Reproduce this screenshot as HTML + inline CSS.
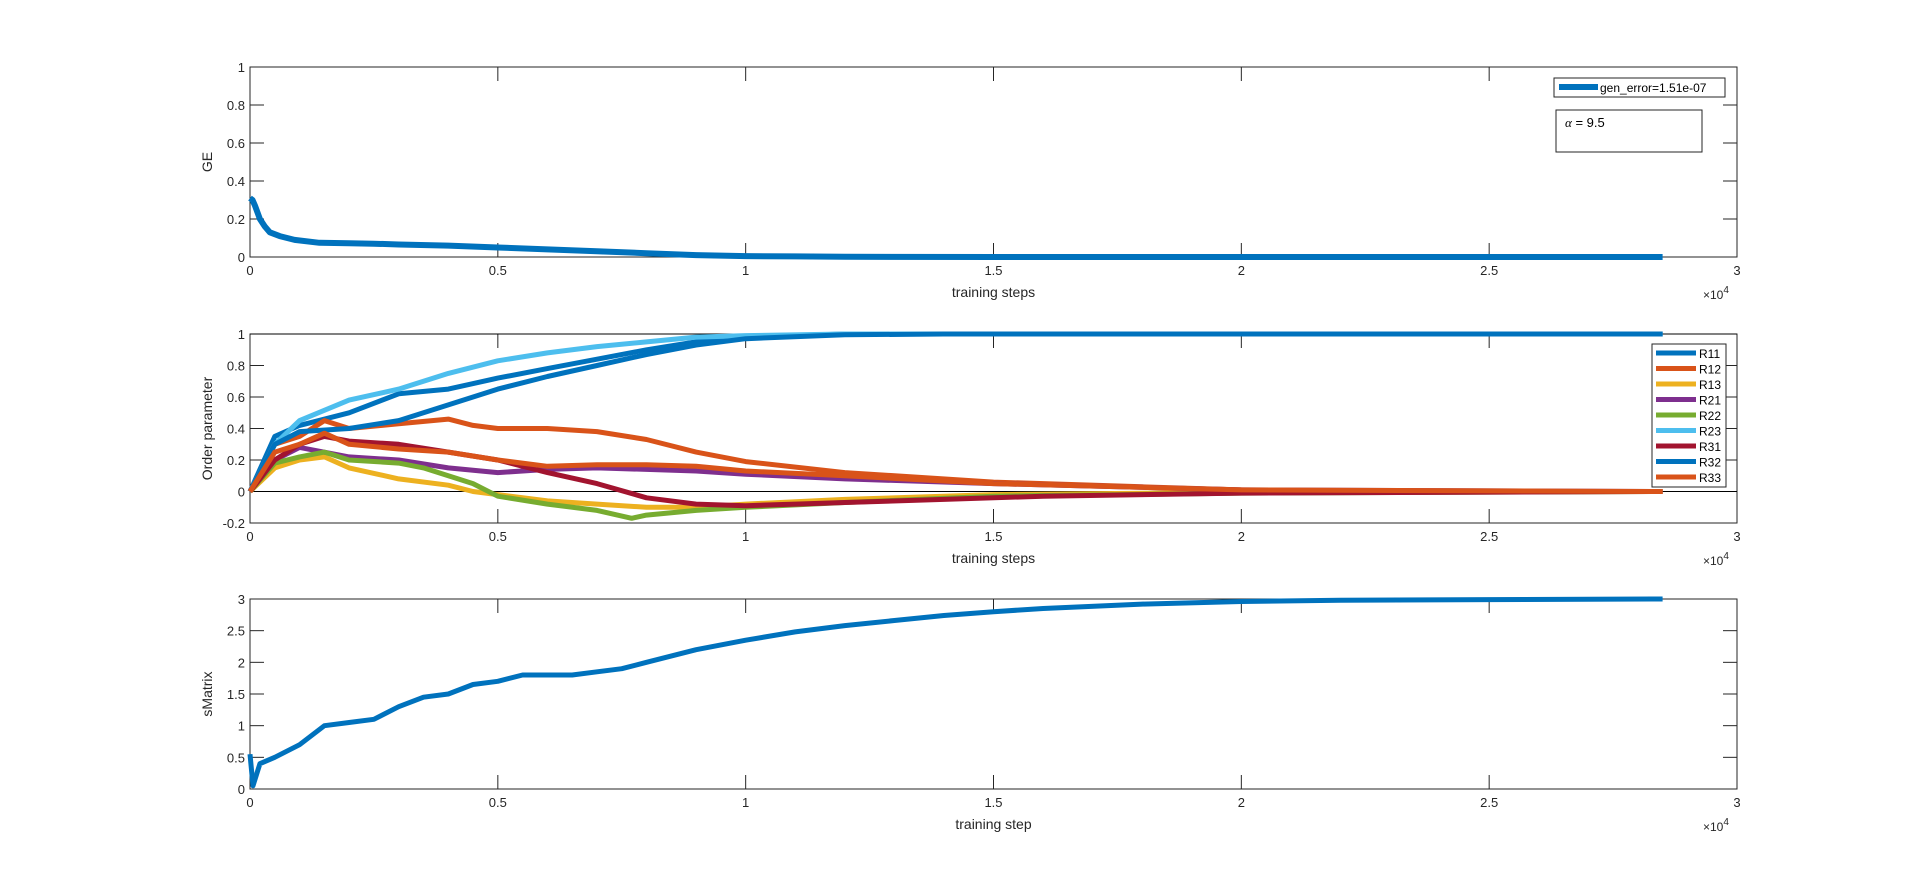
<!DOCTYPE html>
<html><head><meta charset="utf-8"><style>
html,body{margin:0;padding:0;background:#fff;}
svg{display:block;font-family:"Liberation Sans","DejaVu Sans",sans-serif;}
</style></head><body>
<svg id="fig" width="1920" height="888" viewBox="0 0 1920 888" xmlns="http://www.w3.org/2000/svg"></svg>
<script>
// ---- data (x in hundreds of training steps) ----
const geX = [0,0.5,1,2,3,4,6,9,14,20,25,30,40,50,60,70,80,90,100,110,120,150,200,285];
const geY = [0.31,0.30,0.27,0.2,0.16,0.13,0.11,0.09,0.075,0.072,0.07,0.066,0.06,0.05,0.04,0.03,0.02,0.01,0.005,0.003,0.001,0,0,0];
const opSeries = ['R11','R12','R13','R21','R22','R23','R31','R32','R33'];
const opColors = ['#0072bd','#d95319','#edb120','#7e2f8e','#77ac30','#4dbeee','#a2142f','#0072bd','#d95319'];
const opX = {
 R11:[0,5,10,20,30,40,50,60,70,80,90,100,120,140,285],
 R12:[0,5,10,15,20,30,40,45,50,60,70,80,90,100,120,150,180,200,240,285],
 R13:[0,5,10,15,20,30,40,45,50,60,70,80,90,100,120,150,200,285],
 R21:[0,5,10,20,30,40,50,60,70,80,90,100,120,150,200,285],
 R22:[0,5,10,15,20,30,35,40,45,50,60,70,77,80,90,100,120,150,200,285],
 R23:[0,5,10,20,30,40,50,60,70,80,90,100,120,285],
 R31:[0,5,10,15,20,30,40,50,60,70,80,90,100,110,120,140,160,200,285],
 R32:[0,5,10,20,30,40,50,60,70,80,90,100,120,140,285],
 R33:[0,5,10,15,20,30,40,50,60,70,80,90,100,120,150,200,285]
};
const opY = {
 R11:[0,0.35,0.42,0.5,0.62,0.65,0.72,0.78,0.84,0.9,0.95,0.98,1,1,1],
 R12:[0,0.3,0.35,0.45,0.4,0.43,0.46,0.42,0.4,0.4,0.38,0.33,0.25,0.19,0.12,0.06,0.03,0.01,0,0],
 R13:[0,0.15,0.2,0.22,0.15,0.08,0.04,0,-0.02,-0.06,-0.08,-0.1,-0.1,-0.08,-0.05,-0.02,-0.005,0],
 R21:[0,0.2,0.28,0.22,0.2,0.15,0.12,0.14,0.15,0.14,0.13,0.11,0.08,0.05,0.01,0],
 R22:[0,0.18,0.22,0.25,0.2,0.18,0.15,0.1,0.05,-0.03,-0.08,-0.12,-0.17,-0.15,-0.12,-0.1,-0.07,-0.03,-0.01,0],
 R23:[0,0.3,0.45,0.58,0.65,0.75,0.83,0.88,0.92,0.95,0.98,0.99,1,1],
 R31:[0,0.2,0.3,0.35,0.32,0.3,0.25,0.2,0.12,0.05,-0.04,-0.08,-0.09,-0.08,-0.07,-0.05,-0.03,-0.01,0],
 R32:[0,0.3,0.38,0.4,0.45,0.55,0.65,0.73,0.8,0.87,0.93,0.97,0.995,1,1],
 R33:[0,0.25,0.3,0.37,0.3,0.27,0.25,0.2,0.16,0.17,0.17,0.16,0.13,0.1,0.05,0.01,0]
};
const smX = [0,0.3,0.6,2,5,10,15,20,25,30,35,40,45,50,55,60,65,70,75,80,90,100,110,120,130,140,150,160,180,200,220,250,285];
const smY = [0.55,0.3,0.05,0.4,0.5,0.7,1.0,1.05,1.1,1.3,1.45,1.5,1.65,1.7,1.8,1.8,1.8,1.85,1.9,2.0,2.2,2.35,2.48,2.58,2.66,2.74,2.8,2.85,2.92,2.96,2.98,2.99,3];
const xTicks = [0,0.5,1,1.5,2,2.5,3];
const xTickLabels = ['0','0.5','1','1.5','2','2.5','3'];
const geTicks = [0,0.2,0.4,0.6,0.8,1];
const opTicks = [-0.2,0,0.2,0.4,0.6,0.8,1];
const smTicks = [0,0.5,1,1.5,2,2.5,3];

const NS='http://www.w3.org/2000/svg';
const svg=document.getElementById('fig');
function mk(tag,attrs,parent){const e=document.createElementNS(NS,tag);for(const k in attrs)e.setAttribute(k,attrs[k]);(parent||svg).appendChild(e);return e;}
const L=250,R=1737;
const sx=v=>L+(v/300)*(R-L);
function axes(name,top,bot,ymin,ymax,yticks,ylabel,xlabel){
  const g=mk('g',{});
  
  
  const sy=v=>bot-(v-ymin)/(ymax-ymin)*(bot-top);
  const box=mk('rect',{x:L,y:top,width:R-L,height:bot-top,fill:'#fff',stroke:'#262626','stroke-width':1},g);
  
  
  xTicks.forEach((t,i)=>{const x=sx(t*100);
    mk('line',{x1:x,y1:bot,x2:x,y2:bot-14,stroke:'#262626'},g);
    mk('line',{x1:x,y1:top,x2:x,y2:top+14,stroke:'#262626'},g);
    const tx=mk('text',{x:x,y:bot+18,'font-size':13,'text-anchor':'middle',fill:'#262626'},g);
    tx.textContent=xTickLabels[i];
    
    
  });
  yticks.forEach(t=>{const y=sy(t);
    mk('line',{x1:L,y1:y,x2:L+14,y2:y,stroke:'#262626'},g);
    mk('line',{x1:R,y1:y,x2:R-14,y2:y,stroke:'#262626'},g);
    const tx=mk('text',{x:L-5,y:y+5,'font-size':13,'text-anchor':'end',fill:'#262626'},g);
    tx.textContent=String(t);
    
    
  });
  const yl=mk('text',{x:0,y:0,'font-size':14,'text-anchor':'middle',fill:'#262626',transform:`translate(${L-38},${(top+bot)/2}) rotate(-90)`},g);
  yl.textContent=ylabel;
  
  
  const xl=mk('text',{x:(L+R)/2,y:bot+40,'font-size':14,'text-anchor':'middle',fill:'#262626'},g);
  xl.textContent=xlabel;
  
  
  const ex=mk('text',{x:R-34,y:bot+42,'font-size':12,fill:'#262626'},g);
  ex.innerHTML='×10<tspan dy="-6" font-size="10">4</tspan>';
  
  
  return {g,sy};
}
function line(g,xs,ys,sy,color,w,name){
  const d=xs.map((x,i)=>(i?'L':'M')+sx(x).toFixed(1)+','+sy(ys[i]).toFixed(1)).join('');
  const p=mk('path',{d,fill:'none',stroke:color,'stroke-width':w,'stroke-linejoin':'round'},g);
  
  
}
const a1=axes('ge-axes',67,257,0,1,geTicks,'GE','training steps');
line(a1.g,geX,geY,a1.sy,'#0072bd',6,'ge-line');
const lg1=mk('g',{});


mk('rect',{x:1554,y:78,width:171,height:19,fill:'#fff',stroke:'#262626'},lg1);
mk('line',{x1:1559,y1:87,x2:1598,y2:87,stroke:'#0072bd','stroke-width':6},lg1);
const lt=mk('text',{x:1600,y:92,'font-size':12,fill:'#000'},lg1);lt.textContent='gen_error=1.51e-07';
const ab=mk('g',{});


mk('rect',{x:1556,y:110,width:146,height:42,fill:'#fff',stroke:'#262626'},ab);
const at=mk('text',{x:1565,y:127,'font-size':13,fill:'#000'},ab);at.innerHTML='<tspan font-family="Liberation Serif" font-style="italic">α</tspan> = 9.5';

const a2=axes('order-parameter-axes',334,523,-0.2,1.0,opTicks,'Order parameter','training steps');
mk('line',{x1:L,y1:a2.sy(1),x2:R,y2:a2.sy(1),stroke:'#000'},a2.g);
mk('line',{x1:L,y1:a2.sy(0),x2:R,y2:a2.sy(0),stroke:'#000'},a2.g);
opSeries.forEach((s,i)=>line(a2.g,opX[s],opY[s],a2.sy,opColors[i],5,'series-'+s.toLowerCase()));
const lg2=mk('g',{});


mk('rect',{x:1652,y:344,width:74,height:143,fill:'#fff',stroke:'#262626'},lg2);
opSeries.forEach((s,i)=>{const y=353+i*15.5;
  mk('line',{x1:1656,y1:y,x2:1696,y2:y,stroke:opColors[i],'stroke-width':5},lg2);
  const t=mk('text',{x:1699,y:y+5,'font-size':12,fill:'#000'},lg2);t.textContent=s;
  
  
});

const a3=axes('smatrix-axes',599,789,0,3,smTicks,'sMatrix','training step');
line(a3.g,smX,smY,a3.sy,'#0072bd',5,'smatrix-line');
</script>
</body></html>
